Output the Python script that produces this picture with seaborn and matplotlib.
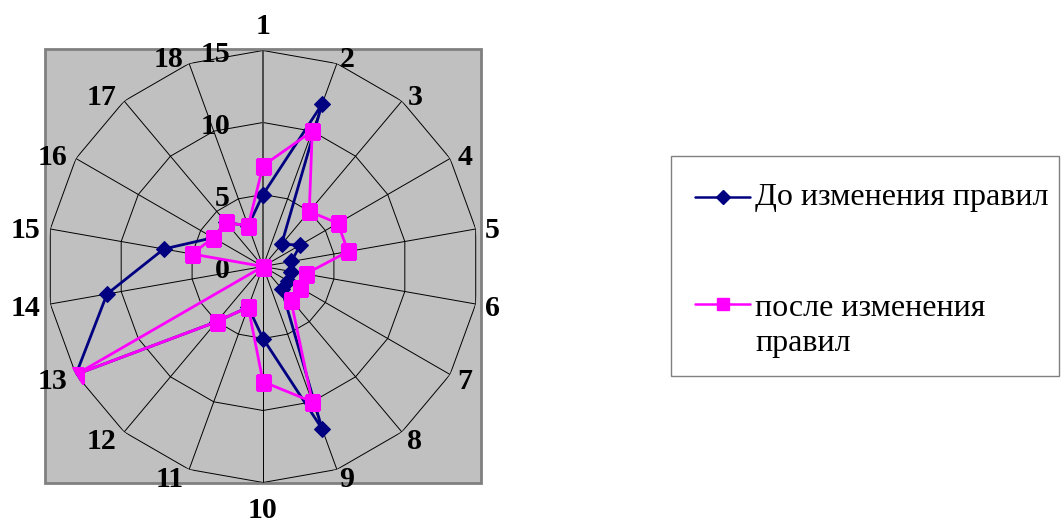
import textwrap
import numpy as np
import matplotlib
matplotlib.use("Agg")
import matplotlib.pyplot as plt
from matplotlib.patches import Rectangle
from matplotlib.lines import Line2D
import seaborn as sns

# ---------------- data ----------------
categories = ["1", "2", "3", "4", "5", "6", "7", "8", "9",
              "10", "11", "12", "13", "14", "15", "16", "17", "18"]
before_values = [5, 12, 2, 3, 2, 2, 2, 2, 12, 5, 3, 5, 15, 11, 7, 4, 4, 3]
after_values = [7, 10, 5, 6, 6, 3, 3, 3, 10, 8, 3, 5, 15, 0, 5, 4, 4, 3]
series_names = ["До изменения правил", "после изменения правил"]
radial_ticks = [0, 5, 10, 15]

# ---------------- style ----------------
sns.set_theme(style="white")
plt.rcParams["font.family"] = ["Liberation Serif", "DejaVu Serif"]

NAVY = "#000080"
MAGENTA = "#FF00FF"

W, H = 1061, 524
fig = plt.figure(figsize=(W / 100, H / 100), dpi=100)
fig.patch.set_facecolor("white")


def fx(px):
    return px / W


def fy(py):
    return 1 - py / H


# gray plot area
fig.add_artist(Rectangle((fx(45), fy(483)), fx(481) - fx(45), fy(49) - fy(483),
                         transform=fig.transFigure, facecolor="#c0c0c0",
                         edgecolor="#808080", linewidth=2.0, zorder=-1))

cx, cy, R = 263, 266.5, 216
ax = fig.add_axes([fx(cx - R), fy(cy + R), 2 * R / W, 2 * R / H], projection="polar")
ax.set_theta_zero_location("N")
ax.set_theta_direction(-1)
ax.patch.set_alpha(0)
ax.spines["polar"].set_visible(False)
ax.grid(False)

n = len(categories)
rmax = max(radial_ticks)
theta = np.linspace(0, 2 * np.pi, n, endpoint=False)
theta_closed = np.append(theta, 2 * np.pi)

# polygon rings
for r in radial_ticks[1:]:
    ax.plot(theta_closed, [r] * (n + 1), color="black", lw=0.7, zorder=1)
# spokes
for t in theta[1:]:
    ax.plot([t, t], [0, rmax], color="black", lw=0.7, zorder=1)
ax.plot([0, 0], [0, rmax], color="#404040", lw=1.3, zorder=1)

# series
sns.lineplot(x=theta_closed, y=np.append(before_values, before_values[0]), ax=ax,
             sort=False, errorbar=None, color=NAVY, linewidth=2.0, marker="D",
             markersize=8, markeredgecolor=NAVY, markerfacecolor=NAVY,
             zorder=3, legend=False)
sns.lineplot(x=theta_closed, y=np.append(after_values, after_values[0]), ax=ax,
             sort=False, errorbar=None, color=MAGENTA, linewidth=2.0, marker="s",
             markersize=10.8, markeredgecolor=MAGENTA, markerfacecolor=MAGENTA,
             zorder=4, legend=False)

ax.set_xticks([])
ax.set_yticks([])
ax.set_xlabel("")
ax.set_ylabel("")
ax.set_ylim(0, rmax)

# category labels
for t, lab in zip(theta, categories):
    s, c = np.sin(t), np.cos(t)
    if abs(s) < 0.05:
        ha = "center"
        va = "bottom" if c > 0 else "top"
        ox, oy = 0, (11 if c > 0 else -15)
    else:
        ha = "left" if s > 0 else "right"
        gap = 10 * s - 1 if s > 0 else 3 + 7 * abs(s)
        ox = gap if s > 0 else -gap
        oy = 8 * c - 3
        va = "center"
    ax.annotate(lab, xy=(t, rmax), xytext=(ox, oy), textcoords="offset pixels",
                ha=ha, va=va, fontsize=21.5, fontweight="bold", color="black",
                annotation_clip=False)

# radial labels
for r in radial_ticks:
    ax.annotate(str(r), xy=(0, r), xytext=(-33, -4.5), textcoords="offset pixels",
                ha="right", va="center", fontsize=21.5, fontweight="bold",
                color="black", annotation_clip=False)

# legend (drawn manually to keep Excel-like layout)
fig.add_artist(Rectangle((fx(671), fy(376)), fx(1059) - fx(671), fy(156) - fy(376),
                         transform=fig.transFigure, facecolor="white",
                         edgecolor="#808080", linewidth=1.0, zorder=5))
entries = [
    (series_names[0], NAVY, "D", 7, 197, 205),
    (textwrap.fill(series_names[1], 20), MAGENTA, "s", 8.5, 304, 351),
]
for label, col, mk, ms, yline, ybase in entries:
    fig.add_artist(Line2D([fx(695), fx(750)], [fy(yline)] * 2, transform=fig.transFigure,
                          color=col, lw=1.8, zorder=6))
    fig.add_artist(Line2D([fx(722.5)], [fy(yline)], transform=fig.transFigure,
                          marker=mk, markersize=ms, color=col, markeredgecolor=col,
                          markerfacecolor=col, lw=0, zorder=7))
    fig.text(fx(755), fy(ybase), label, ha="left", va="baseline", fontsize=23,
             linespacing=1.28, color="black", zorder=7)

fig.savefig("out.png", dpi=100)
